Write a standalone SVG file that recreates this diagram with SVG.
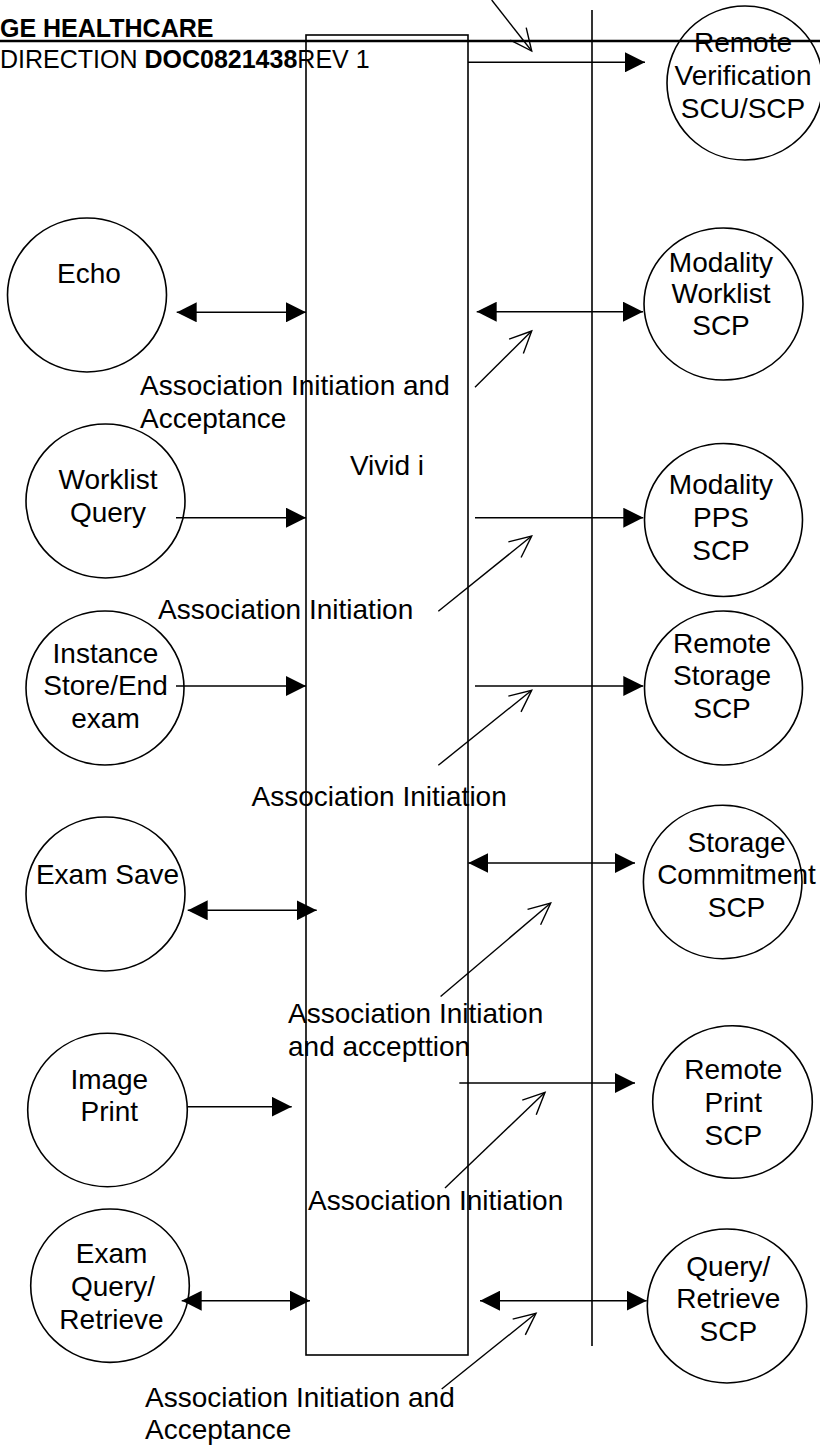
<svg xmlns="http://www.w3.org/2000/svg" width="820" height="1447" viewBox="0 0 820 1447">
<style>
text{font-family:"Liberation Sans",Arial,sans-serif;font-size:28px;fill:#000}
.c{text-anchor:middle}
.node ellipse{fill:#fff;stroke:#000;stroke-width:1.6}
.ln{stroke:#000;stroke-width:1.6;fill:none}
.ptr{stroke:#000;stroke-width:1.4;fill:none;marker-end:url(#open)}
.one{marker-end:url(#solid)}
.two{marker-start:url(#solid);marker-end:url(#solid)}
</style>
<defs>
<marker id="solid" markerUnits="userSpaceOnUse" viewBox="0 0 20 20" refX="20" refY="10" markerWidth="20" markerHeight="20" orient="auto-start-reverse">
<path d="M0,0 L20,10 L0,20 z" fill="#000"/>
</marker>
<marker id="open" markerUnits="userSpaceOnUse" viewBox="-24 -12 26 24" refX="0" refY="0" markerWidth="26" markerHeight="24" orient="auto" overflow="visible">
<path d="M-21.8,-10.1 L0,0 L-21.8,10.1" fill="none" stroke="#000" stroke-width="1.4"/>
</marker>
</defs>
<rect width="820" height="1447" fill="#fff"/>
<g id="header">
<text x="0" y="37" style="font-size:25px;font-weight:bold">GE HEALTHCARE</text>
<text x="0" y="68" style="font-size:25px">DIRECTION <tspan font-weight="bold">DOC0821438</tspan>REV 1</text>
</g>
<g id="vivid">
<rect x="306" y="35" width="162" height="1320" fill="none" stroke="#000" stroke-width="1.6"/>
<text class="c" x="387" y="475">Vivid i</text>
</g>
<line id="network" x1="592" y1="10" x2="592" y2="1346" class="ln"/>
<g id="remote-verification" class="node">
<ellipse cx="745" cy="83" rx="78" ry="77"/>
<text class="c" x="743" y="52">Remote</text>
<text class="c" x="743" y="85">Verification</text>
<text class="c" x="743" y="118">SCU/SCP</text>
</g>
<g id="echo" class="node">
<ellipse cx="87" cy="295" rx="79.5" ry="77"/>
<text class="c" x="89" y="283">Echo</text>
</g>
<g id="modality-worklist" class="node">
<ellipse cx="723.5" cy="304" rx="79.5" ry="76"/>
<text class="c" x="721" y="272">Modality</text>
<text class="c" x="721" y="303">Worklist</text>
<text class="c" x="721" y="335">SCP</text>
</g>
<g id="worklist-query" class="node">
<ellipse cx="105.5" cy="501" rx="79.5" ry="77"/>
<text class="c" x="108" y="489">Worklist</text>
<text class="c" x="108" y="522">Query</text>
</g>
<g id="modality-pps" class="node">
<ellipse cx="723.5" cy="520" rx="79" ry="76.5"/>
<text class="c" x="721" y="494">Modality</text>
<text class="c" x="721" y="527">PPS</text>
<text class="c" x="721" y="560">SCP</text>
</g>
<g id="instance-store" class="node">
<ellipse cx="105" cy="688" rx="79" ry="77"/>
<text class="c" x="105.5" y="663">Instance</text>
<text class="c" x="105.5" y="695">Store/End</text>
<text class="c" x="105.5" y="728">exam</text>
</g>
<g id="remote-storage" class="node">
<ellipse cx="723.5" cy="688" rx="79" ry="77"/>
<text class="c" x="722" y="653">Remote</text>
<text class="c" x="722" y="685">Storage</text>
<text class="c" x="722" y="718">SCP</text>
</g>
<g id="exam-save" class="node">
<ellipse cx="105.5" cy="894" rx="79.5" ry="77"/>
<text class="c" x="107.5" y="884">Exam Save</text>
</g>
<g id="storage-commitment" class="node">
<ellipse cx="722.7" cy="882" rx="79.3" ry="76.7"/>
<text class="c" x="736.5" y="852">Storage</text>
<text class="c" x="736.5" y="884">Commitment</text>
<text class="c" x="736.5" y="917">SCP</text>
</g>
<g id="image-print" class="node">
<ellipse cx="107.5" cy="1110" rx="79.8" ry="76.7"/>
<text class="c" x="109.3" y="1089">Image</text>
<text class="c" x="109.3" y="1121">Print</text>
</g>
<g id="remote-print" class="node">
<ellipse cx="732.5" cy="1102" rx="79.8" ry="76.3"/>
<text class="c" x="733.3" y="1079">Remote</text>
<text class="c" x="733.3" y="1112">Print</text>
<text class="c" x="733.3" y="1145">SCP</text>
</g>
<g id="exam-query-retrieve" class="node">
<ellipse cx="110" cy="1285.7" rx="79.3" ry="76.7"/>
<text class="c" x="111.5" y="1263">Exam</text>
<text class="c" x="113" y="1296">Query/</text>
<text class="c" x="111.5" y="1329">Retrieve</text>
</g>
<g id="query-retrieve" class="node">
<ellipse cx="727" cy="1306" rx="79.7" ry="77"/>
<text class="c" x="728.3" y="1276">Query/</text>
<text class="c" x="728.3" y="1308">Retrieve</text>
<text class="c" x="728.3" y="1341">SCP</text>
</g>
<g id="labels">
<text x="140" y="395">Association Initiation and</text>
<text x="140" y="428">Acceptance</text>
<text x="158" y="619">Association Initiation</text>
<text x="251.5" y="806">Association Initiation</text>
<text x="288" y="1023">Association Initiation</text>
<text x="288" y="1056">and accepttion</text>
<text x="308" y="1210">Association Initiation</text>
<text x="145" y="1407">Association Initiation and</text>
<text x="145" y="1439">Acceptance</text>
</g>
<g id="connectors">
<line class="ptr" x1="491.7" y1="0" x2="531.7" y2="51"/>
<line class="ln one" x1="468" y1="62.3" x2="645" y2="62.3"/>
<line class="ln two" x1="176.7" y1="312.3" x2="306" y2="312.3"/>
<line class="ln two" x1="476.7" y1="311.7" x2="643" y2="311.7"/>
<line class="ptr" x1="475" y1="387.3" x2="531.7" y2="331"/>
<line class="ln one" x1="176" y1="517.7" x2="306" y2="517.7"/>
<line class="ln one" x1="475" y1="517.7" x2="643.3" y2="517.7"/>
<line class="ptr" x1="438.3" y1="611.3" x2="531.7" y2="536"/>
<line class="ln one" x1="176" y1="686" x2="306" y2="686"/>
<line class="ln one" x1="475" y1="686" x2="643.3" y2="686"/>
<line class="ptr" x1="438.3" y1="765.3" x2="531.7" y2="690.3"/>
<line class="ln two" x1="187.7" y1="910.3" x2="316.7" y2="910.3"/>
<line class="ln two" x1="468.3" y1="863" x2="635" y2="863"/>
<line class="ptr" x1="440.6" y1="996.5" x2="550.7" y2="903"/>
<line class="ln one" x1="187.3" y1="1106.7" x2="291.7" y2="1106.7"/>
<line class="ln one" x1="459.3" y1="1083" x2="635" y2="1083"/>
<line class="ptr" x1="445" y1="1188" x2="545" y2="1092.3"/>
<line class="ln two" x1="181.7" y1="1300.7" x2="310" y2="1300.7"/>
<line class="ln two" x1="480" y1="1300.7" x2="646.7" y2="1300.7"/>
<line class="ptr" x1="441.7" y1="1389" x2="536" y2="1313.3"/>
</g>
<line id="rule" x1="0" y1="41" x2="820" y2="41" stroke="#000" stroke-width="2.6"/>
</svg>
